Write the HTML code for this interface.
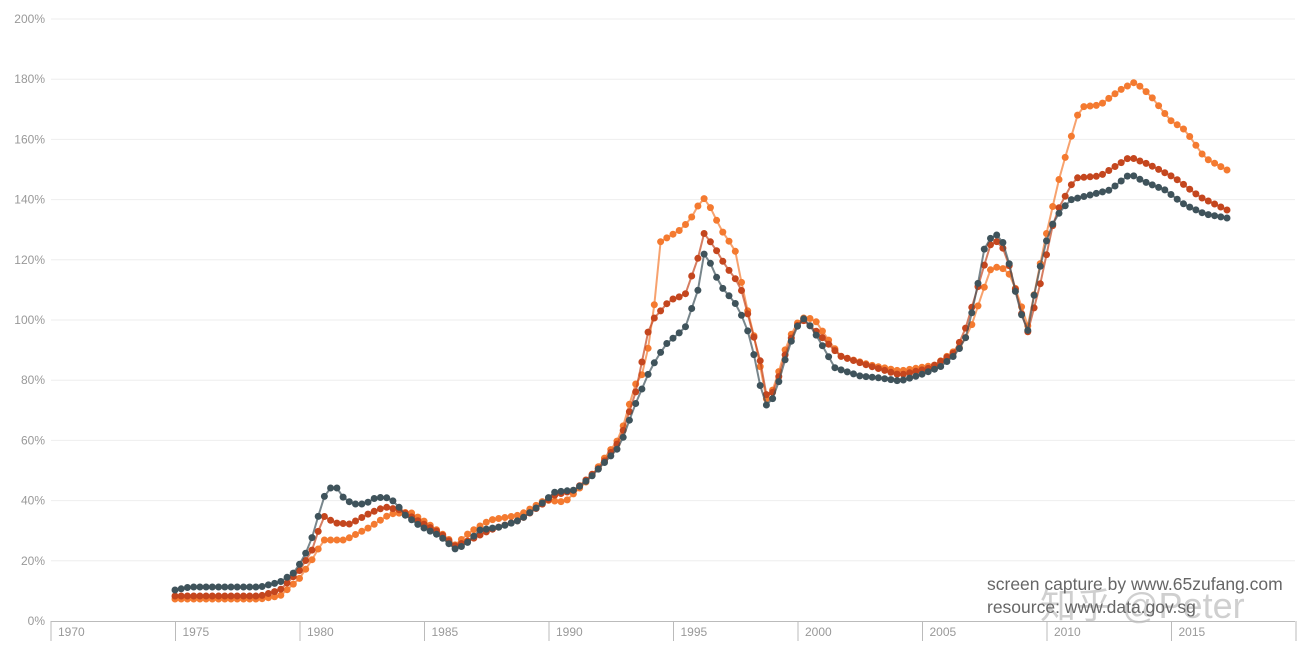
<!DOCTYPE html>
<html><head><meta charset="utf-8"><style>
body{margin:0;background:#fff;width:1312px;height:656px;overflow:hidden;font-family:"Liberation Sans",sans-serif}
</style></head><body>
<svg id="s" width="1312" height="656" xmlns="http://www.w3.org/2000/svg"></svg>
<script>
const s=document.getElementById('s');let h='';
for(let i=0;i<=10;i++){const y=621-i*60.2;
 if(i>0)h+=`<line x1="51" x2="1295" y1="${y}" y2="${y}" stroke="#eeeeee"/>`;
 h+=`<text x="45" y="${y+4}" text-anchor="end" font-size="12" fill="#999">${i*20}%</text>`;}
h+=`<line x1="51" x2="1295" y1="621.5" y2="621.5" stroke="#bbb"/>`;
for(let i=0;i<=10;i++){const x=51+i*124.5;h+=`<line x1="${x}" x2="${x}" y1="621" y2="641" stroke="#bbb"/>`;
 if(i<10)h+=`<text x="${x+7}" y="636" font-size="12" fill="#999">${1970+i*5}</text>`;}
const G=[175,590,190,587,260,587,280,582,295,572,305,555,315,530,322,500,330,488,337,488,345,500,355,504,365,504,375,498,385,497,395,502,405,515,420,526,440,536,455,549,465,545,480,530,500,527,520,520,540,505,555,492,575,490,590,478,605,462,620,446,635,405,650,370,665,345,685,328,698,290,703,253,708,258,720,285,735,303,745,322,752,345,760,385,767,407,775,395,785,360,795,330,803,318,812,328,822,345,835,368,860,376,880,378,900,381,920,375,940,367,955,355,965,340,975,300,985,245,995,233,1005,245,1015,290,1027,335,1035,290,1045,245,1055,218,1070,200,1090,195,1110,190,1130,174,1145,182,1165,190,1185,205,1205,214,1227,218];
const R=[175,596,260,596,280,590,300,570,315,545,322,515,335,523,350,524,370,513,385,507,400,510,420,522,440,533,455,546,470,540,490,530,520,520,555,495,575,490,600,467,620,440,635,395,650,323,670,300,685,295,698,258,703,232,715,248,725,265,740,285,752,330,760,360,767,398,775,390,785,355,795,328,803,320,815,330,840,356,870,366,900,375,930,368,955,352,965,330,980,280,990,245,1000,240,1010,268,1027,335,1040,285,1055,215,1075,178,1100,176,1130,157,1150,165,1175,178,1200,197,1227,210];
const O=[175,599,260,599,280,596,300,578,315,555,323,540,345,540,370,527,390,514,410,512,430,525,445,536,455,545,470,532,490,520,520,515,545,500,565,502,590,478,620,437,635,385,645,370,655,300,660,242,680,230,690,220,703,197,712,210,720,228,735,250,745,300,755,340,767,402,775,385,785,350,795,325,805,317,815,320,825,335,840,356,870,365,900,371,935,365,960,347,970,330,980,300,990,270,1000,266,1010,275,1020,300,1027,330,1045,240,1060,175,1080,107,1100,105,1120,90,1135,82,1150,95,1170,120,1185,130,1205,158,1227,170];
function interp(k,x){for(let i=0;i<k.length-2;i+=2){if(x>=k[i]&&x<=k[i+2]){const t=(x-k[i])/(k[i+2]-k[i]);return k[i+1]+t*(k[i+3]-k[i+1]);}}return k[k.length-1];}
function series(k,c){let pts=[];for(let x=175;x<=1228;x+=6.225)pts.push([x,interp(k,x)]);
 let o=`<polyline fill="none" stroke="${c}" stroke-opacity="0.7" stroke-width="2" points="${pts.map(p=>p[0].toFixed(1)+','+p[1].toFixed(1)).join(' ')}"/>`;
 pts.forEach(p=>o+=`<circle cx="${p[0].toFixed(1)}" cy="${p[1].toFixed(1)}" r="3.5" fill="${c}"/>`);return o;}
h+=series(O,'#f47a30')+series(R,'#c4461e')+series(G,'#3f535b');
h+=`<text x="1040" y="618" font-size="36" fill="#bbb" fill-opacity="0.7" font-family="Liberation Sans,Noto Sans CJK SC,sans-serif">知乎 @Peter</text>`;
h+=`<text x="987" y="590" font-size="17.5" fill="#666">screen capture by www.65zufang.com</text>`;
h+=`<text x="987" y="613" font-size="17.5" fill="#666">resource: www.data.gov.sg</text>`;
s.innerHTML=h;
</script>
</body></html>
